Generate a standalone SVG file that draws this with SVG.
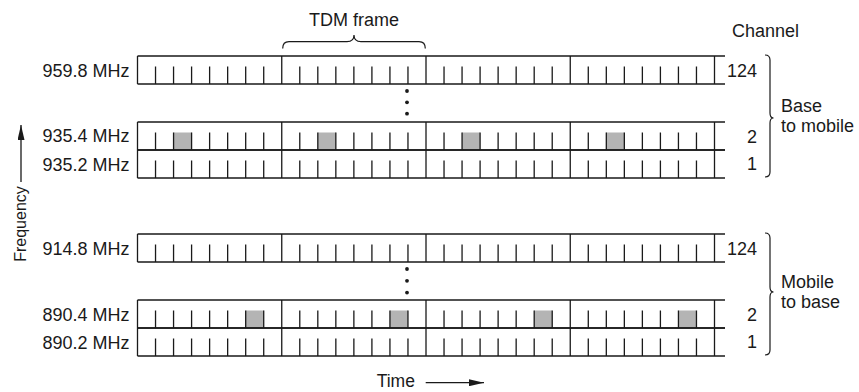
<svg xmlns="http://www.w3.org/2000/svg" xmlns:xlink="http://www.w3.org/1999/xlink" width="859" height="392" viewBox="0 0 859 392">
<style>
.ln{fill:none;stroke:#1a1a1a;stroke-width:1.3}
.br{fill:none;stroke:#1a1a1a;stroke-width:1.2}
.slot{fill:#b4b4b4;stroke:none}
.t{font-family:"Liberation Sans",Arial,sans-serif;font-size:18px;fill:#1a1a1a}
.f{text-anchor:end}
.dot{fill:#1a1a1a}
</style>
<defs>
<marker id="ah" viewBox="0 0 15 7" refX="15" refY="3.5" markerWidth="15" markerHeight="7" markerUnits="userSpaceOnUse" orient="auto"><path d="M0 0L15 3.5L0 7z" fill="#1a1a1a"/></marker>
<path id="ft" class="ln" d="M18.03 10.5V28M36.06 10.5V28M54.09 10.5V28M72.12 10.5V28M90.16 10.5V28M108.19 10.5V28M126.22 10.5V28"/>
<g id="row">
<path class="ln" d="M137.5 0H725M137.5 28H725M137.5 0V28M281.75 0V28M426 0V28M570.25 0V28M714.5 0V28"/>
<use xlink:href="#ft" x="137.5"/>
<use xlink:href="#ft" x="281.75"/>
<use xlink:href="#ft" x="426"/>
<use xlink:href="#ft" x="570.25"/>
</g>
</defs>
<rect width="859" height="392" fill="#ffffff"/>

<g id="tdm-frame">
<path class="br" d="M282.7 48.5Q282.7 41.7 289 41.7H347Q354 41.7 354 35Q354 41.7 361 41.7H419Q425.3 41.7 425.3 48.5"/>
<text class="t" x="354" y="26" text-anchor="middle">TDM frame</text>
</g>
<text id="channel-header" class="t" x="732" y="36.7">Channel</text>

<g id="row-959-8" transform="translate(0,56)">
<use xlink:href="#row"/>
<text class="t f" x="129.5" y="21">959.8 MHz</text>
<text class="t f" x="757" y="21">124</text>
</g>
<g id="dots-upper">
<circle class="dot" cx="407" cy="91" r="1.9"/>
<circle class="dot" cx="407" cy="102.3" r="1.9"/>
<circle class="dot" cx="407" cy="113.7" r="1.9"/>
</g>
<g id="row-935-4" transform="translate(0,122)">
<rect class="slot" x="173.56" y="10.5" width="18.03" height="17.5"/>
<rect class="slot" x="317.81" y="10.5" width="18.03" height="17.5"/>
<rect class="slot" x="462.06" y="10.5" width="18.03" height="17.5"/>
<rect class="slot" x="606.31" y="10.5" width="18.03" height="17.5"/>
<use xlink:href="#row"/>
<text class="t f" x="129.5" y="20">935.4 MHz</text>
<text class="t f" x="757" y="21">2</text>
</g>
<g id="row-935-2" transform="translate(0,150)">
<use xlink:href="#row"/>
<text class="t f" x="129.5" y="21">935.2 MHz</text>
<text class="t f" x="757" y="20">1</text>
</g>
<g id="base-to-mobile">
<path class="br" d="M765 55Q770 55 770 60V113Q770 118 773.5 118Q770 118 770 123V172Q770 177 765 177"/>
<text class="t" x="781" y="112">Base</text>
<text class="t" x="781" y="131.5">to mobile</text>
</g>

<g id="row-914-8" transform="translate(0,234)">
<use xlink:href="#row"/>
<text class="t f" x="129.5" y="21">914.8 MHz</text>
<text class="t f" x="757" y="21">124</text>
</g>
<g id="dots-lower">
<circle class="dot" cx="407" cy="269" r="1.9"/>
<circle class="dot" cx="407" cy="280.8" r="1.9"/>
<circle class="dot" cx="407" cy="292.6" r="1.9"/>
</g>
<g id="row-890-4" transform="translate(0,300)">
<rect class="slot" x="245.69" y="10.5" width="18.03" height="17.5"/>
<rect class="slot" x="389.94" y="10.5" width="18.03" height="17.5"/>
<rect class="slot" x="534.19" y="10.5" width="18.03" height="17.5"/>
<rect class="slot" x="678.44" y="10.5" width="18.03" height="17.5"/>
<use xlink:href="#row"/>
<text class="t f" x="129.5" y="21">890.4 MHz</text>
<text class="t f" x="757" y="21">2</text>
</g>
<g id="row-890-2" transform="translate(0,328)">
<use xlink:href="#row"/>
<text class="t f" x="129.5" y="21">890.2 MHz</text>
<text class="t f" x="757" y="20">1</text>
</g>
<g id="mobile-to-base">
<path class="br" d="M765 233Q770 233 770 238V287Q770 292 773.5 292Q770 292 770 297V350Q770 355 765 355"/>
<text class="t" x="781" y="288">Mobile</text>
<text class="t" x="781" y="308">to base</text>
</g>

<g id="connectors">
<path class="ln" d="M21 182V125" marker-end="url(#ah)"/>
<path class="ln" d="M425.7 382.7H484" marker-end="url(#ah)"/>
</g>
<text id="frequency-label" class="t" style="font-size:16px" text-anchor="middle" transform="translate(26,224) rotate(-90)">Frequency</text>
<text id="time-label" class="t" x="376.7" y="386.7" style="font-size:17.5px">Time</text>
</svg>
